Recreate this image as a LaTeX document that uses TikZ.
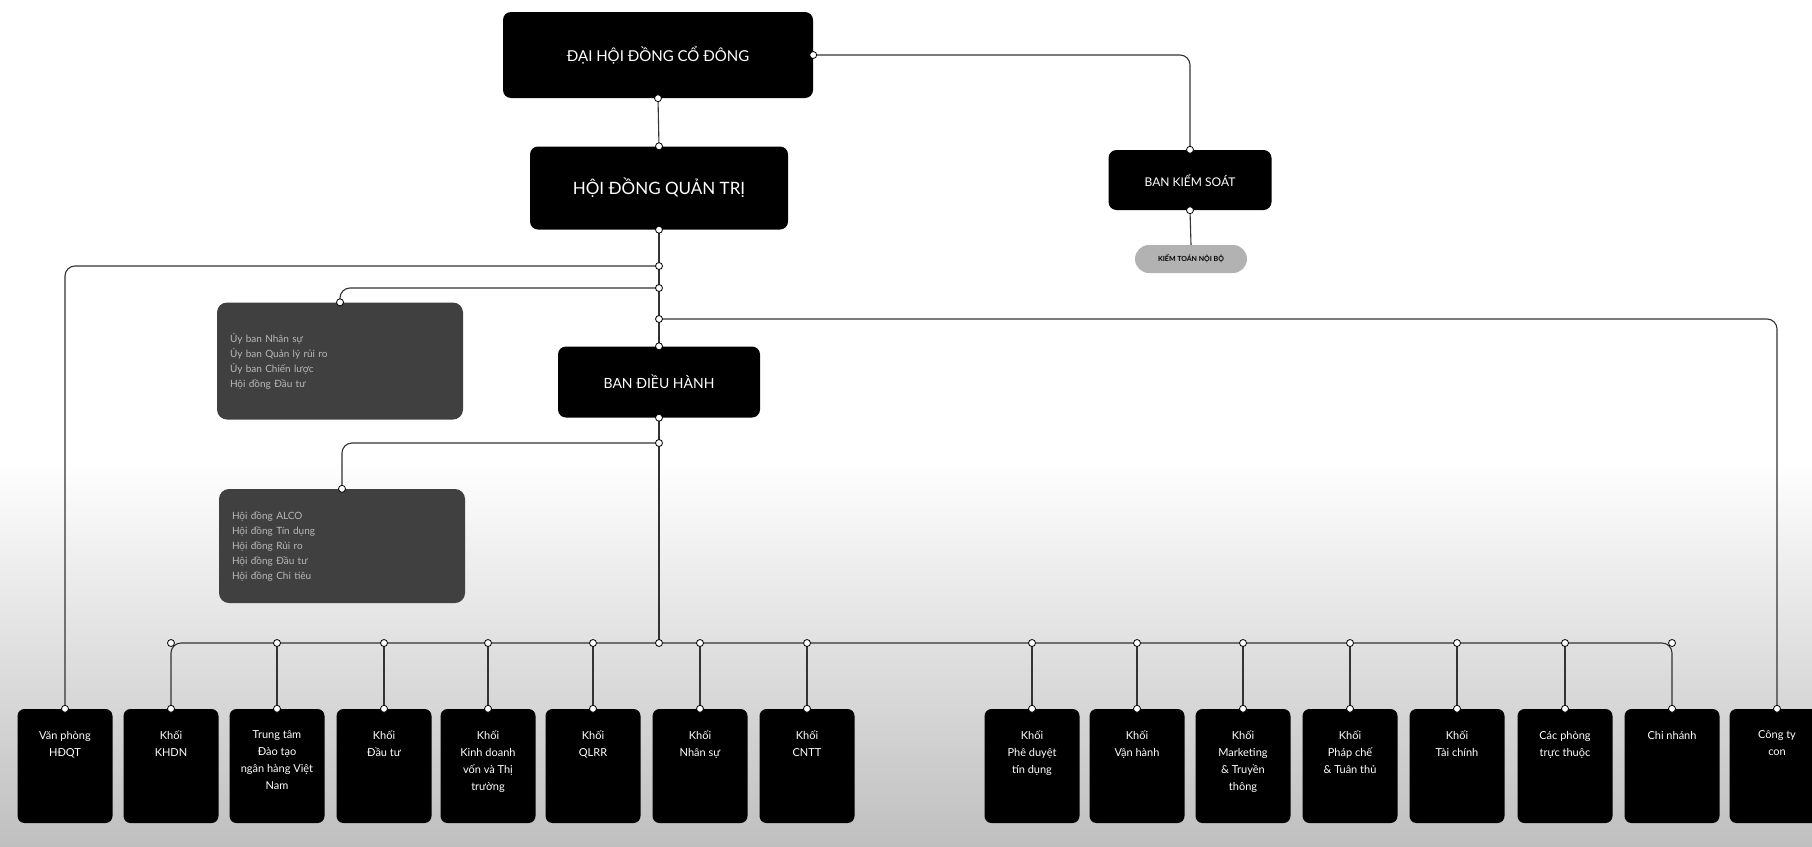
\documentclass[tikz,border=0pt]{standalone}
\usepackage{fontspec}
\setmainfont{Lato}
\usetikzlibrary{positioning}

\tikzset{
  chief/.style={fill=black, rounded corners=8pt, text=white, inner sep=0pt, align=center},
  cmte/.style={fill=black!75, rounded corners=10pt, inner sep=0pt, text=gray!55, align=left,
    font=\fontsize{10}{15}\selectfont},
  unit/.style={fill=black, rounded corners=7pt, minimum width=95pt, minimum height=114pt, inner sep=0pt},
  unittext/.style={text=white, align=center, inner sep=0pt, font=\fontsize{11}{17}\selectfont},
  link/.style={draw=black!80, line width=1.1pt, rounded corners=10pt},
}
\newcommand{\jdot}[1]{\filldraw[fill=white, draw=black, line width=0.8pt] (#1) circle (3.5);}

\begin{document}
\begin{tikzpicture}[x=1pt, y=-1pt]
  \useasboundingbox (0,0) rectangle (1812,846);
  \shade[top color=white, bottom color=gray!50] (0,460) rectangle (1812,846);

  % top level
  \node[chief, minimum width=310pt, minimum height=86pt, font=\fontsize{15}{18}\selectfont] (agm) at (658,55) {ĐẠI HỘI ĐỒNG CỔ ĐÔNG};
  \node[chief, minimum width=258pt, minimum height=83pt, font=\fontsize{17}{20}\selectfont] (board) at (659,188) {HỘI ĐỒNG QUẢN TRỊ};
  \node[chief, minimum width=163pt, minimum height=60pt, font=\fontsize{12}{15}\selectfont] (supervisory) at (1190,180) {BAN KIỂM SOÁT};
  \node[fill=gray!60, rounded corners=14pt, minimum width=112pt, minimum height=28pt, inner sep=0pt,
    font=\bfseries\fontsize{7}{8}\selectfont] (audit) at (1191,259) {KIỂM TOÁN NỘI BỘ};
  \node[chief, minimum width=202pt, minimum height=71pt, font=\fontsize{14}{17}\selectfont] (exec) at (659,382) {BAN ĐIỀU HÀNH};

  % committees
  \node[cmte, minimum width=246pt, minimum height=117pt, text width=220pt] (cmteA) at (340,361)
    {Ủy ban Nhân sự\\Ủy ban Quản lý rủi ro\\Ủy ban Chiến lược\\Hội đồng Đầu tư};
  \node[cmte, minimum width=246pt, minimum height=114pt, text width=220pt] (cmteB) at (342,546)
    {Hội đồng ALCO\\Hội đồng Tín dụng\\Hội đồng Rủi ro\\Hội đồng Đầu tư\\Hội đồng Chi tiêu};

  % bottom units
  \foreach \i/\x/\txt in {
      1/65/{Văn phòng\\HĐQT}, 2/171/{Khối\\KHDN}, 3/277/{Trung tâm\\Đào tạo\\ngân hàng Việt\\Nam},
      4/384/{Khối\\Đầu tư}, 5/488/{Khối\\Kinh doanh\\vốn và Thị\\trường}, 6/593/{Khối\\QLRR},
      7/700/{Khối\\Nhân sự}, 8/807/{Khối\\CNTT}, 9/1032/{Khối\\Phê duyệt\\tín dụng},
      10/1137/{Khối\\Vận hành}, 11/1243/{Khối\\Marketing\\\& Truyền\\thông},
      12/1350/{Khối\\Pháp chế\\\& Tuân thủ}, 13/1457/{Khối\\Tài chính},
      14/1565/{Các phòng\\trực thuộc}, 15/1672/{Chi nhánh}, 16/1777/{Công ty\\con}} {
    \node[unit] (u\i) at (\x,766) {};
    \node[unittext, below=22pt of u\i.north] (t\i) {\txt};
  }

  % junctions
  \coordinate (j1) at (659,266);
  \coordinate (j2) at (659,288);
  \coordinate (j3) at (659,319);
  \coordinate (j4) at (659,443);
  \coordinate (bus) at (659,643);

  % connectors
  \draw[link] (agm.east) -| (supervisory.north);
  \draw[link] (agm.south) -- (board.north);
  \draw[link] (supervisory.south) -- (audit.north);
  \draw[link] (board.south) -- (j1) -- (j2) -- (j3) -- (exec.north);
  \draw[link] (j1) -| (u1.north);
  \draw[link] (j2) -| (cmteA.north);
  \draw[link] (j3) -| (u16.north);
  \draw[link] (exec.south) -- (j4) -- (bus);
  \draw[link] (j4) -| (cmteB.north);
  \draw[link] (u2.north) |- (bus) -| (u15.north);
  \foreach \i in {3,...,14}
    \draw[link] (u\i.north |- bus) -- (u\i.north);

  % dots
  \jdot{agm.east} \jdot{agm.south} \jdot{board.north} \jdot{board.south}
  \jdot{supervisory.north} \jdot{supervisory.south} \jdot{exec.north} \jdot{exec.south}
  \jdot{j1} \jdot{j2} \jdot{j3} \jdot{j4} \jdot{bus}
  \jdot{cmteA.north} \jdot{cmteB.north}
  \foreach \i in {1,...,16}
    \jdot{u\i.north};
  \foreach \i in {2,...,15}
    \jdot{u\i.north |- bus};
\end{tikzpicture}
\end{document}
